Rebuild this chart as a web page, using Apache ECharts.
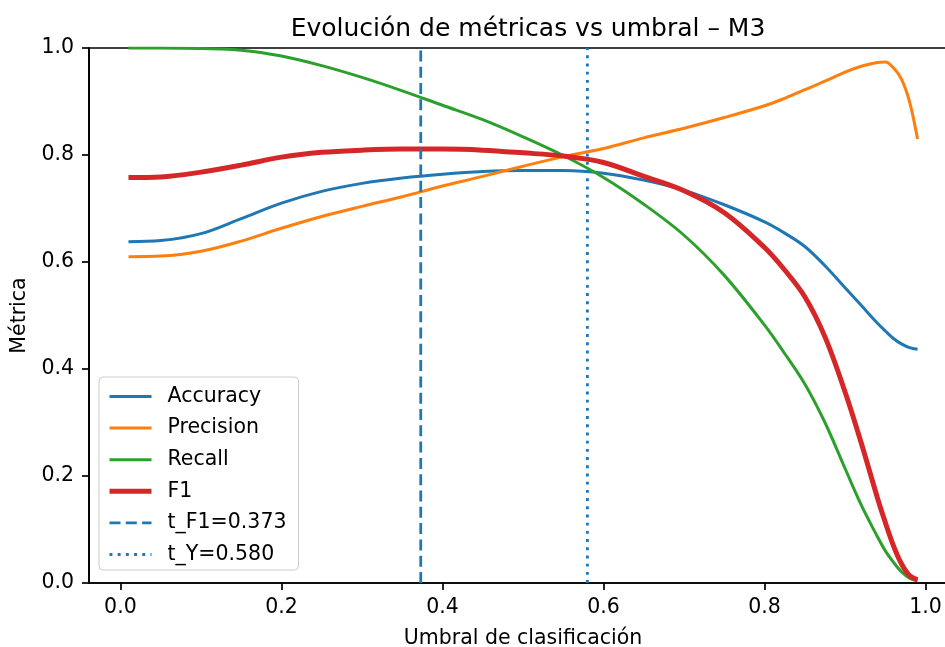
<!DOCTYPE html>
<html>
<head>
<meta charset="utf-8">
<script src="https://cdn.jsdelivr.net/npm/echarts@6/dist/echarts.min.js"></script>
<style>
html,body{margin:0;padding:0;background:#fff;}
#chart{width:945px;height:647px;}
</style>
</head>
<body>
<div id="chart"></div>
<script>
const thresholds = [0.01,0.05,0.10,0.15,0.20,0.25,0.30,0.35,0.40,0.45,0.50,0.55,0.60,0.65,0.70,0.75,0.80,0.825,0.85,0.875,0.90,0.92,0.94,0.95,0.96,0.97,0.98,0.99];
const accuracy  = [0.638,0.640,0.653,0.681,0.710,0.732,0.747,0.757,0.764,0.769,0.771,0.771,0.766,0.753,0.734,0.707,0.675,0.654,0.629,0.593,0.552,0.519,0.486,0.471,0.457,0.447,0.440,0.437];
const precision = [0.610,0.611,0.620,0.639,0.663,0.685,0.704,0.722,0.742,0.760,0.779,0.797,0.812,0.832,0.850,0.870,0.892,0.906,0.922,0.938,0.955,0.966,0.973,0.974,0.963,0.942,0.900,0.830];
const recall    = [1.000,1.000,0.999,0.996,0.985,0.967,0.945,0.920,0.893,0.866,0.834,0.799,0.758,0.708,0.650,0.575,0.482,0.429,0.372,0.300,0.214,0.146,0.087,0.060,0.039,0.021,0.009,0.004];
const f1        = [0.758,0.759,0.768,0.781,0.796,0.805,0.809,0.811,0.811,0.809,0.804,0.798,0.786,0.760,0.733,0.692,0.627,0.585,0.535,0.460,0.357,0.262,0.160,0.113,0.070,0.036,0.014,0.006];
const tF1 = 0.373;
const tY = 0.580;
const vlineSpan = [0, 1];
const xTicks = [0.0, 0.2, 0.4, 0.6, 0.8, 1.0];

const pairs = (arr) => thresholds.map((t, i) => [t, arr[i]]);
const vline = (x) => vlineSpan.map(v => [x, v]);

const FONT = 'DejaVu Sans';
const chart = echarts.init(document.getElementById('chart'), null, {renderer: 'canvas'});

const lineSeries = (name, data, color, width) => ({
  name, type: 'line', data, smooth: 0.35, showSymbol: false, symbol: 'none',
  lineStyle: {color, width}, itemStyle: {color}, clip: true, animation: false
});

chart.setOption({
  animation: false,
  backgroundColor: '#ffffff',
  title: {
    text: 'Evolución de métricas vs umbral – M3',
    left: 523, top: 12, textAlign: 'center',
    textStyle: {fontFamily: FONT, fontSize: 25, fontWeight: 'normal', color: '#000'}
  },
  grid: {
    left: 89, top: 48, width: 868, bottom: 64,
    containLabel: false, outerBoundsMode: 'none',
    show: true, borderColor: '#000', borderWidth: 1.7, backgroundColor: 'transparent'
  },
  legend: {
    orient: 'vertical', left: 99, top: 377,
    padding: [9, 12, 5, 8],
    itemWidth: 42, itemHeight: 21, itemGap: 10.6,
    backgroundColor: 'rgba(255,255,255,0.8)',
    borderColor: '#cccccc', borderWidth: 1, borderRadius: 4,
    itemStyle: {opacity: 0},
    lineStyle: {width: 'inherit'},
    textStyle: {fontFamily: FONT, fontSize: 20.5, color: '#000', padding: [0,0,0,11]},
    data: ['Accuracy', 'Precision', 'Recall', 'F1', 't_F1=0.373', 't_Y=0.580']
  },
  xAxis: {
    type: 'value', min: -0.039, max: 1.039,
    name: 'Umbral de clasificación', nameLocation: 'middle', nameGap: 45,
    nameTextStyle: {fontFamily: FONT, fontSize: 20.5, color: '#000'},
    axisLine: {show: true, onZero: false, lineStyle: {color: '#000', width: 1.7}},
    axisTick: {show: true, customValues: xTicks, length: 7, inside: false, lineStyle: {color: '#000', width: 1.7}},
    axisLabel: {customValues: xTicks, margin: 14, fontFamily: FONT, fontSize: 20.5, color: '#000',
      formatter: (v) => v.toFixed(1)},
    splitLine: {show: false}
  },
  yAxis: {
    type: 'value', min: 0, max: 1, interval: 0.2,
    name: 'Métrica', nameLocation: 'middle', nameGap: 56,
    nameTextStyle: {fontFamily: FONT, fontSize: 20.5, color: '#000'},
    axisLine: {show: true, onZero: false, lineStyle: {color: '#000', width: 1.7}},
    axisTick: {show: true, length: 7, inside: false, lineStyle: {color: '#000', width: 1.7}},
    axisLabel: {margin: 15, fontFamily: FONT, fontSize: 20.5, color: '#000',
      formatter: (v) => v.toFixed(1)},
    splitLine: {show: false}
  },
  series: [
    lineSeries('Accuracy', pairs(accuracy), '#1f77b4', 3),
    lineSeries('Precision', pairs(precision), '#ff7f0e', 3),
    lineSeries('Recall', pairs(recall), '#2ca02c', 3),
    lineSeries('F1', pairs(f1), '#d62728', 5),
    {
      name: 't_F1=0.373', type: 'line', data: vline(tF1), showSymbol: false, symbol: 'none',
      lineStyle: {color: '#1f77b4', width: 2.8, type: [11, 5.3]}, itemStyle: {color: '#1f77b4'}
    },
    {
      name: 't_Y=0.580', type: 'line', data: vline(tY), showSymbol: false, symbol: 'none',
      lineStyle: {color: '#1f77b4', width: 2.8, type: [2.9, 5.3]}, itemStyle: {color: '#1f77b4'}
    }
  ]
});
</script>
</body>
</html>
